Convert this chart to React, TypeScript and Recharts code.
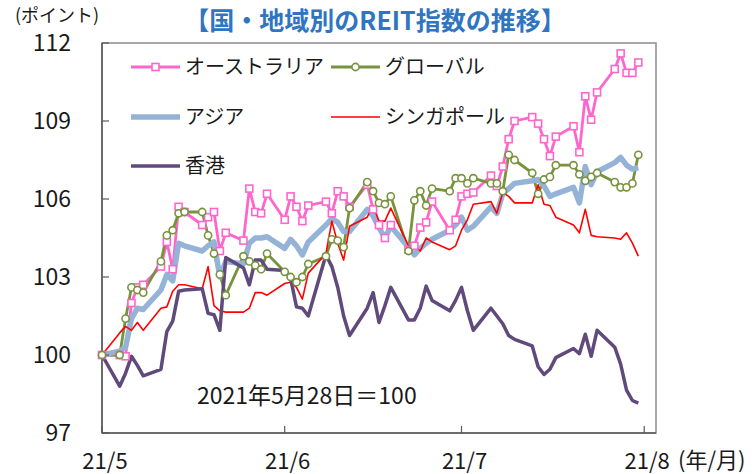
import React from "react";
import { LineChart, Line, XAxis, YAxis, ReferenceArea } from "recharts";

// trading days (2021), base date 5/28 = 100
const tradeDates = [
  "05-28",
  "05-31", "06-01", "06-02", "06-03", "06-04",
  "06-07", "06-08", "06-09", "06-10", "06-11",
  "06-14", "06-15", "06-16", "06-17", "06-18",
  "06-21", "06-22", "06-23", "06-24", "06-25",
  "06-28", "06-29", "06-30", "07-01", "07-02",
  "07-05", "07-06", "07-07", "07-08", "07-09",
  "07-12", "07-13", "07-14", "07-15", "07-16",
  "07-19", "07-20", "07-21", "07-22", "07-23",
  "07-26", "07-27", "07-28", "07-29", "07-30",
  "08-02", "08-03", "08-04", "08-05", "08-06",
  "08-09", "08-10", "08-11", "08-12", "08-13",
  "08-16", "08-17", "08-18", "08-19", "08-20",
  "08-23", "08-24", "08-25", "08-26", "08-27",
];

const ausIndex = [
  100.0,
  100.0, 99.95, 102.0, 102.6, 102.7,
  103.4, 104.35, 103.3, 105.7, 105.5,
  105.0, 105.3, 105.5, 104.0, 104.7,
  104.4, 106.4, 105.5, 105.45, 106.2,
  105.2, 106.1, 105.7, 105.15, 105.75,
  105.9, 105.45, 106.3, 106.1, 105.7,
  106.55, 105.6, 105.0, 104.5, 105.0,
  104.05, 104.2, 104.9, 105.1, 105.9,
  104.8, 105.2, 106.1, 106.2, 106.25,
  106.9, 106.5, 107.25, 108.3, 109.0,
  109.15, 108.9, 108.3, 107.65, 108.4,
  108.8, 107.8, 109.95, 109.05, 110.1,
  111.0, 111.6, 110.85, 110.85, 111.25,
];

const globalIndex = [
  100.0,
  100.0, 101.4, 102.6, 102.5, 102.4,
  103.6, 104.6, 104.8, 105.45, 105.5,
  105.5, 104.6, 103.9, 103.1, 102.3,
  103.8, 103.6, 103.45, 103.3, 103.9,
  103.2, 103.0, 102.8, 103.0, 103.5,
  103.8, 104.45, 104.4, 104.15, 105.65,
  106.65, 106.3, 105.85, 105.8, 106.1,
  104.0, 105.95, 106.3, 105.75, 106.4,
  106.3, 106.8, 106.8, 106.6, 106.8,
  106.6, 106.6, 106.3, 107.7, 107.5,
  107.0, 106.2, 106.75, 106.85, 107.3,
  107.3, 106.95, 106.7, 106.85, 107.0,
  106.65, 106.45, 106.45, 106.6, 107.7,
];

const asiaIndex = [
  100.0,
  100.15, 100.3, 101.4, 101.8, 101.75,
  102.5, 103.1, 102.85, 104.3, 104.2,
  104.0, 104.2, 104.35, 103.0, 103.6,
  103.5, 104.3, 104.5, 104.5, 104.55,
  104.1, 104.45, 104.2, 103.85, 104.35,
  105.0, 105.25, 105.1, 104.75, 104.75,
  105.6, 105.35, 104.9, 104.5, 104.95,
  104.15, 103.85, 104.1, 104.3, 104.45,
  104.8, 105.0, 105.3, 104.8, 104.95,
  105.7, 105.45, 106.2, 106.4, 106.6,
  106.7, 106.75, 106.5, 106.1, 106.2,
  106.45, 105.85, 107.25, 106.55, 107.05,
  107.4, 107.6, 107.3, 107.15, 107.2,
];

const singaporeIndex = [
  100.0,
  100.85, 101.1, 100.95, 101.25, 100.95,
  101.8, 101.85, 102.45, 102.7, 102.7,
  102.55, 103.4, 101.9, 101.7, 101.65,
  101.65, 101.8, 102.4, 102.4, 102.3,
  102.75, 102.8, 102.6, 102.15, 103.15,
  103.9, 105.15, 104.3, 103.65, 104.95,
  105.3, 105.75, 105.15, 105.15, 105.65,
  104.2, 104.2, 104.0, 104.5, 104.35,
  104.05, 104.2, 104.8, 105.2, 105.8,
  105.9, 105.45, 106.25, 106.1, 105.85,
  105.85, 106.55, 105.8, 105.75, 105.3,
  105.0, 104.7, 105.6, 104.6, 104.55,
  104.5, 104.45, 104.7, 104.3, 103.8,
];

const hongkongIndex = [
  100.0,
  98.8, 99.3, 99.95, 99.6, 99.2,
  99.45, 100.9, 101.3, 102.45, 102.5,
  102.55, 101.6, 101.55, 100.95, 103.75,
  103.35, 102.7, 103.65, 103.65, 103.3,
  103.25, 102.95, 101.85, 101.8, 101.5,
  103.85, 103.4, 102.6, 101.5, 100.75,
  101.8, 102.4, 101.25, 101.9, 102.6,
  101.35, 101.35, 101.8, 102.65, 102.1,
  101.7, 102.1, 102.6, 101.7, 100.95,
  101.8, 101.5, 101.2, 100.75, 100.6,
  100.35, 99.55, 99.25, 99.45, 99.9,
  100.25, 100.05, 100.8, 99.95, 100.95,
  100.3, 99.65, 98.65, 98.25, 98.15,
];

const tickDates = ["05-28", "06-28", "07-28", "08-28"];
const tickLabels = ["21/5", "21/6", "21/7", "21/8"];
const axisEndDate = "08-30";
const yTicks = [97, 100, 103, 106, 109, 112];

const FONT = "'Noto Sans CJK JP', 'Noto Sans', sans-serif";

const dayOf = (md: string) => {
  const [m, d] = md.split("-").map(Number);
  return (Date.UTC(2021, m - 1, d) - Date.UTC(2021, 4, 28)) / 86400000;
};

const tickDays = tickDates.map(dayOf);

const rows = tradeDates.map((md, i) => ({
  day: dayOf(md),
  aus: ausIndex[i],
  global: globalIndex[i],
  asia: asiaIndex[i],
  sg: singaporeIndex[i],
  hk: hongkongIndex[i],
}));

const series = [
  { key: "aus", name: "オーストラリア", color: "#FF66CC", width: 2.8, marker: "square", lx: 131, ly: 67 },
  { key: "global", name: "グローバル", color: "#77933C", width: 2.8, marker: "circle", lx: 331, ly: 67 },
  { key: "asia", name: "アジア", color: "#95B3D7", width: 5.5, marker: "none", lx: 131, ly: 117 },
  { key: "sg", name: "シンガポール", color: "#FF0000", width: 1.6, marker: "none", lx: 331, ly: 117 },
  { key: "hk", name: "香港", color: "#604A7B", width: 3.5, marker: "none", lx: 131, ly: 166 },
];

function drawMarker(kind: string, color: string, cx: number, cy: number, key?: any) {
  if (kind === "square")
    return (
      <rect key={key} x={cx - 3.5} y={cy - 3.5} width={7} height={7} fill="#fff" stroke={color} strokeWidth={1.6} />
    );
  if (kind === "circle")
    return <circle key={key} cx={cx} cy={cy} r={3.6} fill="#fff" stroke={color} strokeWidth={1.6} />;
  return null;
}

export default function App() {
  return (
    <div style={{ position: "absolute", left: 0, top: 0, width: 754, height: 474, background: "#fff" }}>
      <LineChart width={754} height={474} data={rows} margin={{ top: 43, right: 98, bottom: 11, left: 0 }}>
        <ReferenceArea x1={0} x2={dayOf(axisEndDate)} y1={97} y2={112} fill="none" stroke="#8c8c8c" strokeWidth={1.5} />
        <XAxis
          type="number"
          dataKey="day"
          domain={[0, dayOf(axisEndDate)]}
          ticks={tickDays}
          interval={0}
          height={30}
          tickSize={-7}
          tickMargin={27}
          tickFormatter={(v: number) => tickLabels[tickDays.indexOf(v)] ?? ""}
          axisLine={{ stroke: "#595959", strokeWidth: 1.5 }}
          tickLine={{ stroke: "#595959", strokeWidth: 1.2 }}
          tick={{ fill: "#1a1a1a", fontSize: 22, fontFamily: FONT, dx: 3 }}
        />
        <YAxis
          type="number"
          domain={[97, 112]}
          ticks={yTicks}
          interval={0}
          width={102}
          tickSize={-7}
          tickMargin={38}
          axisLine={{ stroke: "#595959", strokeWidth: 1.5 }}
          tickLine={{ stroke: "#595959", strokeWidth: 1.2 }}
          tick={{ fill: "#1a1a1a", fontSize: 23, fontFamily: FONT }}
        />
        {series.map((s) => (
          <Line
            key={s.key}
            type="linear"
            dataKey={s.key}
            name={s.name}
            stroke={s.color}
            strokeWidth={s.width}
            strokeLinejoin="round"
            isAnimationActive={false}
            activeDot={false}
            dot={
              s.marker === "none"
                ? false
                : (p: any) => drawMarker(s.marker, s.color, p.cx, p.cy, `${s.key}-${p.index}`) ?? <g key={p.index} />
            }
          />
        ))}
      </LineChart>

      <svg
        width={754}
        height={474}
        style={{ position: "absolute", left: 0, top: 0, pointerEvents: "none", fontFamily: FONT }}
      >
        <text x={375} y={30} textAnchor="middle" fontSize={25} fontWeight="bold" fill="#2F75C0">
          【国・地域別のREIT指数の推移】
        </text>
        <text x={57} y={22} textAnchor="middle" fontSize={18} fill="#1a1a1a">
          (ポイント)
        </text>
        <text x={678} y={468} fontSize={22} fill="#1a1a1a">
          (年/月)
        </text>
        <text x={197} y={404} fontSize={23} fill="#1a1a1a">
          2021年5月28日＝100
        </text>
        {series.map((s) => (
          <g key={s.key}>
            <line x1={s.lx} x2={s.lx + 49} y1={s.ly} y2={s.ly} stroke={s.color} strokeWidth={s.width} />
            {drawMarker(s.marker, s.color, s.lx + 24.5, s.ly)}
            <text x={s.lx + 54} y={s.ly + 7} fontSize={20} fill="#1a1a1a">
              {s.name}
            </text>
          </g>
        ))}
      </svg>
    </div>
  );
}
